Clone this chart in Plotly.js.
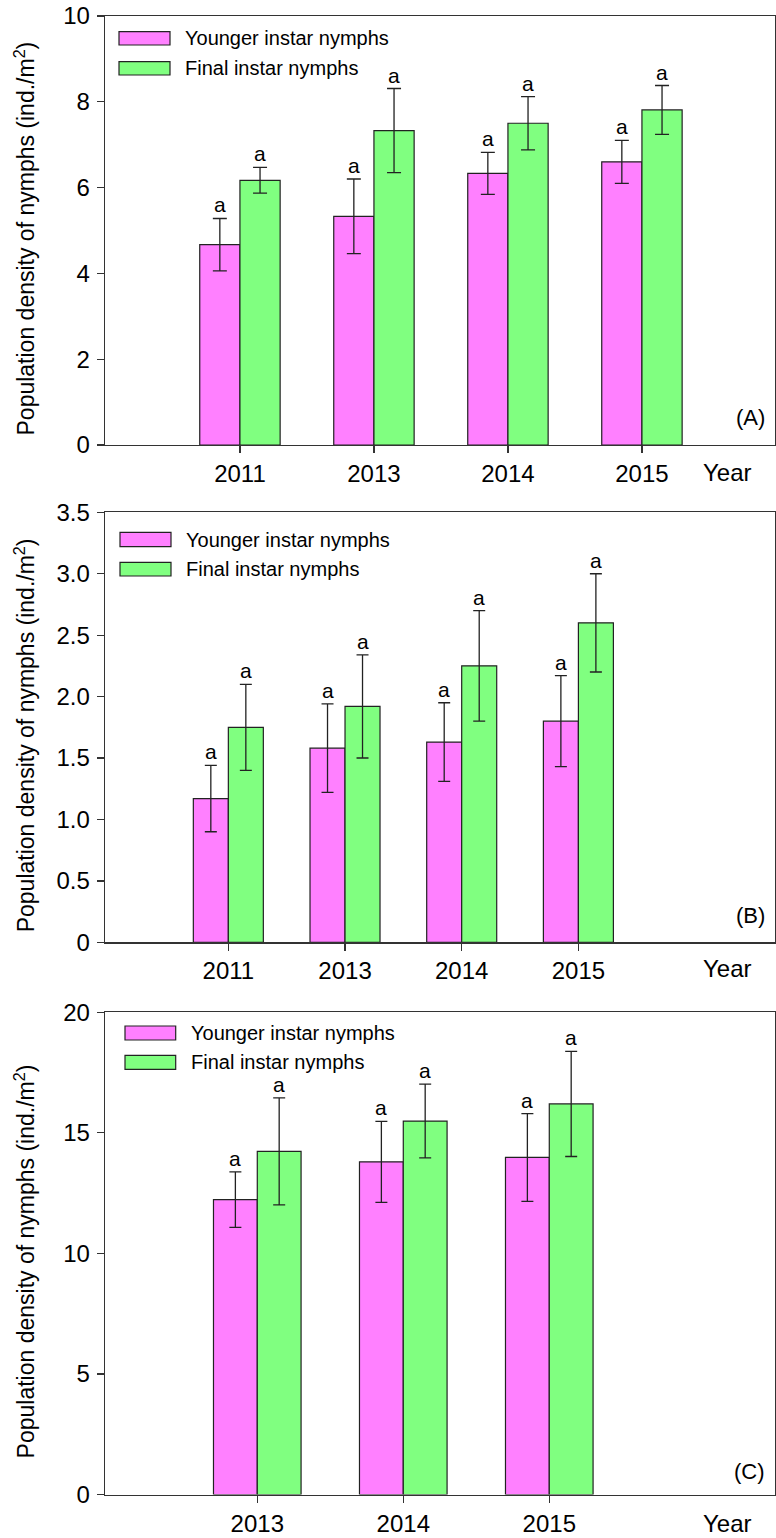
<!DOCTYPE html>
<html>
<head>
<meta charset="utf-8">
<script src="https://cdn.plot.ly/plotly-3.0.1.min.js"></script>
<style>html,body{margin:0;padding:0;background:#fff;}#chart{width:776px;height:1538px;}</style>
</head>
<body>
<div id="chart"></div>
<script>
// ---- data ----
const yearsAB = ['2011', '2013', '2014', '2015'];
const yearsC = ['2013', '2014', '2015'];

const youngA = [4.67, 5.33, 6.33, 6.60];
const youngErrA = [0.61, 0.87, 0.49, 0.50];
const finalA = [6.17, 7.33, 7.50, 7.81];
const finalErrA = [0.30, 0.98, 0.62, 0.57];

const youngB = [1.17, 1.58, 1.63, 1.80];
const youngErrB = [0.27, 0.36, 0.32, 0.37];
const finalB = [1.75, 1.92, 2.25, 2.60];
const finalErrB = [0.35, 0.42, 0.45, 0.40];

const youngC = [12.23, 13.80, 13.98];
const youngErrC = [1.15, 1.68, 1.82];
const finalC = [14.23, 15.49, 16.20];
const finalErrC = [2.22, 1.53, 2.18];

const lettersYoung = ['a', 'a', 'a', 'a'];
const lettersFinal = ['a', 'a', 'a', 'a'];

const seriesNames = ['Younger instar nymphs', 'Final instar nymphs'];
const panelLabels = ['(A)', '(B)', '(C)'];
const yTitle = 'Population density of nymphs (ind./m<sup>2</sup>)';
const xTitle = 'Year';

const ticksA = [0, 2, 4, 6, 8, 10];
const ticksB = [0, 0.5, 1.0, 1.5, 2.0, 2.5, 3.0, 3.5];
const tickTextB = ['0', '0.5', '1.0', '1.5', '2.0', '2.5', '3.0', '3.5'];
const ticksC = [0, 5, 10, 15, 20];

// ---- style ----
const W = 776, H = 1538;
const PINK = '#FF80FF', GREEN = '#80FF80', EDGE = '#222222', AX = '#333333';
const FONT = 'Liberation Sans, Arial, sans-serif';
const px = x => x / W;
const py = y => 1 - y / H;
const BARGAP = 0.4;

const panels = [
  {x: yearsAB, y1: youngA, e1: youngErrA, y2: finalA, e2: finalErrA, top: 16, bottom: 445,
   range: [0, 10], xr: [-1.007, 3.993], tv: ticksA, tt: ticksA.map(String), cap: 7,
   leg: {sx0: 119, sx1: 170, tx: 183, r1: [31.7, 45], r2: [61.7, 75]}, lab: 418, xlab: 472},
  {x: yearsAB, y1: youngB, e1: youngErrB, y2: finalB, e2: finalErrB, top: 512.3, bottom: 942.3,
   range: [0, 3.5], xr: [-1.057, 4.685], tv: ticksB, tt: tickTextB, cap: 6,
   leg: {sx0: 120, sx1: 171, tx: 184, r1: [532.3, 546.7], r2: [562.3, 576]}, lab: 915, xlab: 968},
  {x: yearsC, y1: youngC, e1: youngErrC, y2: finalC, e2: finalErrC, top: 1012.3, bottom: 1494.5,
   range: [0, 20], xr: [-1.043, 3.546], tv: ticksC, tt: ticksC.map(String), cap: 6,
   leg: {sx0: 125, sx1: 175.7, tx: 189, r1: [1026, 1040], r2: [1055.3, 1069.3]}, lab: 1471, xlab: 1523}
];

const data = [];
const shapes = [];
const annotations = [];
const layout = {
  width: W, height: H,
  margin: {l: 0, r: 0, t: 0, b: 0},
  paper_bgcolor: '#fff', plot_bgcolor: '#fff',
  barmode: 'group', bargap: BARGAP, bargroupgap: 0,
  showlegend: false,
  font: {family: FONT, color: '#000'},
  shapes: shapes, annotations: annotations
};

const off = (1 - BARGAP) / 4;

panels.forEach((p, i) => {
  const n = i === 0 ? '' : String(i + 1);
  const xa = 'x' + n, ya = 'y' + n;
  [[p.y1, p.e1, PINK, seriesNames[0], lettersYoung, -off], [p.y2, p.e2, GREEN, seriesNames[1], lettersFinal, off]].forEach(s => {
    data.push({
      type: 'bar', x: p.x, y: s[0], name: s[3], xaxis: xa, yaxis: ya,
      marker: {color: s[2], line: {color: EDGE, width: 1.2}},
      error_y: {type: 'data', array: s[1], visible: true, color: EDGE, thickness: 1.3, width: p.cap},
      hoverinfo: 'x+y'
    });
    p.x.forEach((c, k) => {
      annotations.push({
        xref: xa, yref: ya, x: k + s[5], y: s[0][k] + s[1][k], text: s[4][k],
        showarrow: false, yanchor: 'bottom', xanchor: 'center', yshift: 0,
        font: {size: 21, family: FONT, color: '#000'}
      });
    });
  });

  layout['xaxis' + n] = {
    domain: [px(105), px(775)], anchor: ya, type: 'category', range: p.xr,
    showline: true, linecolor: AX, linewidth: 1.3, mirror: true,
    ticks: 'outside', ticklen: 7, tickwidth: 1.3, tickcolor: AX,
    showgrid: false, zeroline: false, tickfont: {size: 24, family: FONT, color: '#000'},
    ticklabelstandoff: 0, fixedrange: true
  };
  layout['yaxis' + n] = {
    domain: [py(p.bottom), py(p.top)], anchor: xa, range: p.range,
    tickmode: 'array', tickvals: p.tv, ticktext: p.tt,
    showline: true, linecolor: AX, linewidth: 1.3, mirror: true,
    ticks: 'outside', ticklen: 7, tickwidth: 1.3, tickcolor: AX,
    showgrid: false, zeroline: false, tickfont: {size: 24, family: FONT, color: '#000'},
    ticklabelstandoff: 2, fixedrange: true
  };

  // y-axis title
  annotations.push({
    xref: 'paper', yref: 'paper', x: px(25), y: py((p.top + p.bottom) / 2 + 8),
    text: yTitle, textangle: -90, showarrow: false, xanchor: 'center', yanchor: 'middle',
    font: {size: 23, family: FONT, color: '#000'}
  });
  // "Year"
  annotations.push({
    xref: 'paper', yref: 'paper', x: px(727), y: py(p.xlab), text: xTitle, showarrow: false,
    xanchor: 'center', yanchor: 'middle', font: {size: 24, family: FONT, color: '#000'}
  });
  // panel label
  annotations.push({
    xref: 'paper', yref: 'paper', x: px(767), y: py(p.lab), text: panelLabels[i], showarrow: false,
    xanchor: 'right', yanchor: 'middle', font: {size: 22, family: FONT, color: '#000'}
  });
  // legend
  [[p.leg.r1, PINK, seriesNames[0]], [p.leg.r2, GREEN, seriesNames[1]]].forEach(l => {
    shapes.push({
      type: 'rect', xref: 'paper', yref: 'paper',
      x0: px(p.leg.sx0), x1: px(p.leg.sx1), y0: py(l[0][1]), y1: py(l[0][0]),
      fillcolor: l[1], line: {color: EDGE, width: 1.2}
    });
    annotations.push({
      xref: 'paper', yref: 'paper', x: px(p.leg.tx), y: py((l[0][0] + l[0][1]) / 2),
      text: l[2], showarrow: false, xanchor: 'left', yanchor: 'middle',
      font: {size: 20, family: FONT, color: '#000'}
    });
  });
});

Plotly.newPlot('chart', data, layout, {displayModeBar: false, staticPlot: true});
</script>
</body>
</html>
